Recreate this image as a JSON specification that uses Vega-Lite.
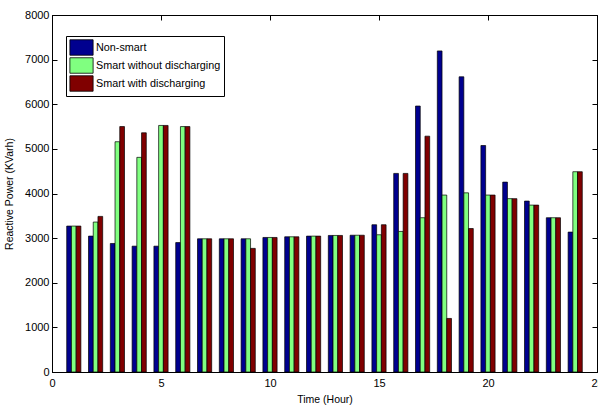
{
  "$schema": "https://vega.github.io/schema/vega-lite/v6.json",
  "width": 545,
  "height": 357,
  "autosize": {"type": "none"},
  "padding": {"left": 52, "top": 15, "right": 1, "bottom": 34},
  "background": "white",
  "config": {
    "view": {"stroke": "black", "strokeWidth": 1},
    "font": "Liberation Sans",
    "axis": {"grid": false, "labelFlush": false, "domainColor": "black", "tickColor": "black", "labelColor": "black", "titleColor": "black", "labelFont": "Liberation Sans", "titleFont": "Liberation Sans", "labelFontSize": 11, "titleFontSize": 10.5, "titleFontWeight": "normal", "tickSize": -5}
  },
  "data": {"values": [
    {"hour": 1, "series": "Non-smart", "value": 3270},
    {"hour": 1, "series": "Smart without discharging", "value": 3270},
    {"hour": 1, "series": "Smart with discharging", "value": 3270},
    {"hour": 2, "series": "Non-smart", "value": 3045},
    {"hour": 2, "series": "Smart without discharging", "value": 3360},
    {"hour": 2, "series": "Smart with discharging", "value": 3487},
    {"hour": 3, "series": "Non-smart", "value": 2880},
    {"hour": 3, "series": "Smart without discharging", "value": 5160},
    {"hour": 3, "series": "Smart with discharging", "value": 5500},
    {"hour": 4, "series": "Non-smart", "value": 2820},
    {"hour": 4, "series": "Smart without discharging", "value": 4810},
    {"hour": 4, "series": "Smart with discharging", "value": 5360},
    {"hour": 5, "series": "Non-smart", "value": 2820},
    {"hour": 5, "series": "Smart without discharging", "value": 5525},
    {"hour": 5, "series": "Smart with discharging", "value": 5525},
    {"hour": 6, "series": "Non-smart", "value": 2900},
    {"hour": 6, "series": "Smart without discharging", "value": 5500},
    {"hour": 6, "series": "Smart with discharging", "value": 5500},
    {"hour": 7, "series": "Non-smart", "value": 2985},
    {"hour": 7, "series": "Smart without discharging", "value": 2985},
    {"hour": 7, "series": "Smart with discharging", "value": 2985},
    {"hour": 8, "series": "Non-smart", "value": 2985},
    {"hour": 8, "series": "Smart without discharging", "value": 2985},
    {"hour": 8, "series": "Smart with discharging", "value": 2985},
    {"hour": 9, "series": "Non-smart", "value": 2985},
    {"hour": 9, "series": "Smart without discharging", "value": 2985},
    {"hour": 9, "series": "Smart with discharging", "value": 2770},
    {"hour": 10, "series": "Non-smart", "value": 3015},
    {"hour": 10, "series": "Smart without discharging", "value": 3015},
    {"hour": 10, "series": "Smart with discharging", "value": 3015},
    {"hour": 11, "series": "Non-smart", "value": 3030},
    {"hour": 11, "series": "Smart without discharging", "value": 3030},
    {"hour": 11, "series": "Smart with discharging", "value": 3030},
    {"hour": 12, "series": "Non-smart", "value": 3045},
    {"hour": 12, "series": "Smart without discharging", "value": 3045},
    {"hour": 12, "series": "Smart with discharging", "value": 3045},
    {"hour": 13, "series": "Non-smart", "value": 3060},
    {"hour": 13, "series": "Smart without discharging", "value": 3060},
    {"hour": 13, "series": "Smart with discharging", "value": 3060},
    {"hour": 14, "series": "Non-smart", "value": 3065},
    {"hour": 14, "series": "Smart without discharging", "value": 3065},
    {"hour": 14, "series": "Smart with discharging", "value": 3065},
    {"hour": 15, "series": "Non-smart", "value": 3300},
    {"hour": 15, "series": "Smart without discharging", "value": 3075},
    {"hour": 15, "series": "Smart with discharging", "value": 3300},
    {"hour": 16, "series": "Non-smart", "value": 4450},
    {"hour": 16, "series": "Smart without discharging", "value": 3150},
    {"hour": 16, "series": "Smart with discharging", "value": 4450},
    {"hour": 17, "series": "Non-smart", "value": 5960},
    {"hour": 17, "series": "Smart without discharging", "value": 3457},
    {"hour": 17, "series": "Smart with discharging", "value": 5285},
    {"hour": 18, "series": "Non-smart", "value": 7195},
    {"hour": 18, "series": "Smart without discharging", "value": 3965},
    {"hour": 18, "series": "Smart with discharging", "value": 1200},
    {"hour": 19, "series": "Non-smart", "value": 6615},
    {"hour": 19, "series": "Smart without discharging", "value": 4015},
    {"hour": 19, "series": "Smart with discharging", "value": 3215},
    {"hour": 20, "series": "Non-smart", "value": 5075},
    {"hour": 20, "series": "Smart without discharging", "value": 3965},
    {"hour": 20, "series": "Smart with discharging", "value": 3965},
    {"hour": 21, "series": "Non-smart", "value": 4255},
    {"hour": 21, "series": "Smart without discharging", "value": 3885},
    {"hour": 21, "series": "Smart with discharging", "value": 3885},
    {"hour": 22, "series": "Non-smart", "value": 3830},
    {"hour": 22, "series": "Smart without discharging", "value": 3740},
    {"hour": 22, "series": "Smart with discharging", "value": 3740},
    {"hour": 23, "series": "Non-smart", "value": 3457},
    {"hour": 23, "series": "Smart without discharging", "value": 3457},
    {"hour": 23, "series": "Smart with discharging", "value": 3457},
    {"hour": 24, "series": "Non-smart", "value": 3135},
    {"hour": 24, "series": "Smart without discharging", "value": 4488},
    {"hour": 24, "series": "Smart with discharging", "value": 4488}
  ]},
  "layer": [
    {
      "mark": {"type": "bar", "stroke": "black", "strokeWidth": 0.7},
      "encoding": {
        "x": {"field": "hour", "type": "ordinal", "axis": null, "scale": {"paddingInner": 0.35, "paddingOuter": 0.675}},
        "xOffset": {"field": "series", "type": "nominal", "scale": {"domain": ["Non-smart", "Smart without discharging", "Smart with discharging"], "paddingInner": 0, "paddingOuter": 0}},
        "y": {"field": "value", "type": "quantitative", "scale": {"domain": [0, 8000], "nice": false}, "axis": {"title": "Reactive Power (KVarh)", "values": [0, 1000, 2000, 3000, 4000, 5000, 6000, 7000, 8000], "format": "d", "labelPadding": 8, "titlePadding": 10}},
        "color": {"field": "series", "type": "nominal", "scale": {"domain": ["Non-smart", "Smart without discharging", "Smart with discharging"], "range": ["#00008f", "#80ff80", "#800000"]},
          "legend": {"title": null, "orient": "none", "legendX": 14, "legendY": 21, "direction": "vertical", "strokeColor": "black", "fillColor": "white", "padding": 3, "symbolType": "M-1.5,-1H1.5V1H-1.5Z", "symbolSize": 240, "symbolOffset": 4, "symbolStrokeColor": "black", "symbolStrokeWidth": 0.8, "symbolOpacity": 1, "labelFontSize": 10.8, "labelFont": "Liberation Sans", "labelColor": "black", "rowPadding": -2.5, "labelOffset": 6}}
      }
    },
    {
      "mark": {"type": "point", "opacity": 0},
      "encoding": {
        "x": {"field": "hour", "type": "quantitative", "scale": {"domain": [0, 25], "nice": false}, "axis": {"orient": "bottom", "title": "Time (Hour)", "values": [0, 5, 10, 15, 20, 25], "labelPadding": 10, "titlePadding": 6}},
        "y": {"field": "value", "type": "quantitative", "scale": {"domain": [0, 8000], "nice": false}, "axis": {"orient": "right", "title": null, "labels": false, "values": [0, 1000, 2000, 3000, 4000, 5000, 6000, 7000, 8000]}}
      }
    },
    {
      "mark": {"type": "point", "opacity": 0},
      "encoding": {
        "x": {"field": "hour", "type": "quantitative", "scale": {"domain": [0, 25], "nice": false}, "axis": {"orient": "top", "title": null, "labels": false, "values": [0, 5, 10, 15, 20, 25]}},
        "y": {"field": "value", "type": "quantitative", "scale": {"domain": [0, 8000], "nice": false}, "axis": null}
      }
    }
  ],
  "resolve": {"scale": {"x": "independent", "y": "independent", "xOffset": "independent"}}
}
